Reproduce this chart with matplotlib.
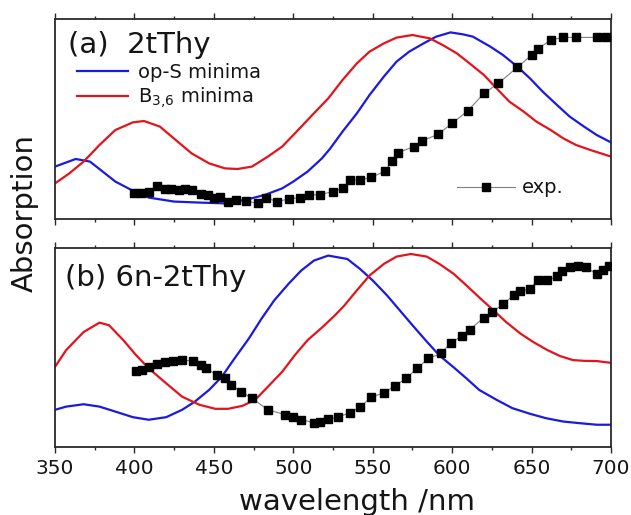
import matplotlib
matplotlib.use("Agg")
import matplotlib.pyplot as plt
from matplotlib.lines import Line2D
from matplotlib.ticker import MultipleLocator

plt.rcParams['font.family'] = ['DejaVu Sans']
plt.rcParams['mathtext.default'] = 'regular'

# ---- panel (a) 2tThy ----
a_blue_wl = [350, 363, 372, 380, 388, 400, 409, 425, 441, 457, 472, 482, 493, 500, 509, 518,
             523, 531, 540, 548, 557, 565, 573, 582, 590, 599, 607, 613, 624, 632, 641, 649,
             657, 666, 674, 683, 691, 700]
a_blue_v = [0.262, 0.30, 0.287, 0.237, 0.187, 0.137, 0.107, 0.087, 0.082, 0.078, 0.10, 0.12, 0.153,
            0.187, 0.237, 0.303, 0.35, 0.437, 0.528, 0.62, 0.712, 0.787, 0.837, 0.878, 0.912, 0.933,
            0.923, 0.912, 0.862, 0.82, 0.762, 0.703, 0.637, 0.57, 0.512, 0.462, 0.42, 0.383]

a_red_wl = [350, 359, 368, 378, 388, 399, 406, 416, 426, 436, 447, 457, 465, 474, 484, 493, 501,
            511, 522, 531, 540, 548, 557, 565, 575, 586, 594, 603, 611, 620, 628, 636, 645, 653,
            662, 670, 678, 687, 700]
a_red_v = [0.178, 0.228, 0.287, 0.37, 0.445, 0.483, 0.49, 0.462, 0.395, 0.328, 0.278, 0.253, 0.25,
           0.262, 0.312, 0.362, 0.428, 0.512, 0.603, 0.695, 0.778, 0.837, 0.878, 0.907, 0.92, 0.903,
           0.87, 0.828, 0.778, 0.72, 0.653, 0.587, 0.537, 0.487, 0.445, 0.403, 0.37, 0.345, 0.312]

a_exp_wl = [400, 404, 409, 414, 419, 423, 428, 432, 436, 442, 446, 450, 454, 459, 464, 470, 478,
            483, 490, 497, 504, 510, 517, 525, 531, 536, 542, 549, 558, 562, 566, 576, 581, 591,
            600, 610, 620, 629, 641, 650, 654, 662, 670, 678, 691, 697]
a_exp_v = [0.13, 0.13, 0.137, 0.165, 0.15, 0.15, 0.145, 0.15, 0.145, 0.125, 0.12, 0.107, 0.112,
           0.087, 0.095, 0.09, 0.078, 0.105, 0.087, 0.1, 0.107, 0.12, 0.122, 0.137, 0.153, 0.195,
           0.195, 0.208, 0.24, 0.29, 0.332, 0.362, 0.39, 0.423, 0.478, 0.542, 0.628, 0.678, 0.758,
           0.82, 0.85, 0.895, 0.908, 0.908, 0.908, 0.908]

# ---- panel (b) 6n-2tThy ----
b_blue_wl = [350, 357, 368, 378, 388, 399, 409, 420, 430, 438, 447, 455, 463, 472, 480, 488, 497,
             505, 513, 522, 534, 542, 550, 559, 567, 576, 584, 592, 601, 609, 617, 628, 638, 649,
             659, 670, 680, 691, 700]
b_blue_v = [0.187, 0.203, 0.215, 0.203, 0.178, 0.15, 0.137, 0.15, 0.187, 0.228, 0.287, 0.353,
            0.445, 0.545, 0.645, 0.737, 0.82, 0.887, 0.937, 0.962, 0.945, 0.895, 0.837, 0.762,
            0.687, 0.603, 0.53, 0.46, 0.40, 0.345, 0.287, 0.237, 0.195, 0.167, 0.145, 0.128,
            0.12, 0.112, 0.112]

b_red_wl = [350, 357, 368, 378, 384, 393, 401, 409, 420, 430, 441, 451, 459, 468, 476, 484, 493,
            501, 509, 518, 526, 532, 540, 548, 557, 565, 574, 584, 592, 601, 609, 618, 626, 634,
            643, 651, 660, 668, 676, 683, 691, 700]
b_red_v = [0.403, 0.487, 0.578, 0.625, 0.612, 0.537, 0.462, 0.395, 0.32, 0.253, 0.212, 0.192,
           0.192, 0.207, 0.237, 0.303, 0.378, 0.462, 0.537, 0.60, 0.66, 0.71, 0.787, 0.862, 0.92,
           0.957, 0.97, 0.957, 0.92, 0.87, 0.812, 0.745, 0.687, 0.628, 0.57, 0.528, 0.487,
           0.457, 0.437, 0.433, 0.432, 0.423]

b_exp_wl = [401, 405, 409, 414, 419, 424, 430, 437, 442, 445, 452, 457, 461, 467, 474, 484, 495,
            500, 505, 513, 517, 522, 528, 536, 542, 549, 557, 564, 571, 578, 585, 593, 599, 606,
            611, 620, 625, 632, 639, 643, 649, 654, 660, 666, 669, 674, 679, 684, 691, 695, 699]
b_exp_v = [0.382, 0.387, 0.40, 0.417, 0.428, 0.433, 0.437, 0.432, 0.412, 0.395, 0.362, 0.345,
           0.312, 0.278, 0.245, 0.187, 0.162, 0.15, 0.137, 0.123, 0.128, 0.14, 0.15, 0.173, 0.20,
           0.25, 0.273, 0.307, 0.345, 0.395, 0.445, 0.47, 0.523, 0.557, 0.59, 0.65, 0.678, 0.717,
           0.765, 0.783, 0.795, 0.84, 0.837, 0.857, 0.887, 0.903, 0.912, 0.903, 0.87, 0.89, 0.912]

xticks = [350, 400, 450, 500, 550, 600, 650, 700]

BLUE = '#1a1ae0'
RED = '#e3141c'
GRAY = '#808080'
SPINE = '#2a2a2a'
TXT = '#151515'

fig = plt.figure(figsize=(6.31, 5.15), dpi=100)
ax1 = fig.add_axes([0.0872, 0.5748, 0.8811, 0.3883])
ax2 = fig.add_axes([0.0872, 0.1320, 0.8811, 0.3864])


def style(ax, labels):
    ax.set_xlim(350, 700)
    ax.set_ylim(0, 1)
    ax.set_xticks(xticks)
    ax.xaxis.set_minor_locator(MultipleLocator(25))
    ax.set_yticks([])
    for s in ax.spines.values():
        s.set_linewidth(1.3)
        s.set_color(SPINE)
    ax.tick_params(axis='x', which='major', direction='out', top=True, bottom=True,
                   length=4.5, width=1.0, color=SPINE, labelsize=14.5, pad=4,
                   labelbottom=labels, labelcolor=TXT)
    ax.tick_params(axis='x', which='minor', direction='out', top=True, bottom=True,
                   length=2.5, width=1.0, color=SPINE)


for ax, bw, bv, rw, rv, ew, ev in [
        (ax1, a_blue_wl, a_blue_v, a_red_wl, a_red_v, a_exp_wl, a_exp_v),
        (ax2, b_blue_wl, b_blue_v, b_red_wl, b_red_v, b_exp_wl, b_exp_v)]:
    ax.plot(ew, ev, color=GRAY, lw=0.8, zorder=1)
    ax.plot(ew, ev, ls='none', marker='s', ms=5.2, color='black', zorder=3)
    ax.plot(bw, bv, color=BLUE, lw=1.6, zorder=2, solid_joinstyle='round')
    ax.plot(rw, rv, color=RED, lw=1.6, zorder=2, solid_joinstyle='round')

style(ax1, False)
style(ax2, True)

ax1.text(0.0234, 0.83, '(a)  2tThy', transform=ax1.transAxes, fontsize=21,
         va='baseline', ha='left', color=TXT)
ax2.text(0.018, 0.809, '(b) 6n-2tThy', transform=ax2.transAxes, fontsize=21,
         va='baseline', ha='left', color=TXT)

h_blue = Line2D([], [], color=BLUE, lw=1.6)
h_red = Line2D([], [], color=RED, lw=1.6)
leg1 = ax1.legend([h_blue, h_red], ['op-S minima', r'B$_{3{,}6}$ minima'],
                  loc='center left', bbox_to_anchor=(0.0396, 0.663), frameon=False,
                  fontsize=14, handlelength=2.6, handletextpad=0.55, labelspacing=0.2,
                  borderpad=0, borderaxespad=0, labelcolor=TXT)
ax1.add_artist(leg1)

h_exp = Line2D([], [], color=GRAY, lw=0.8, marker='s', ms=5.2,
               markerfacecolor='black', markeredgecolor='black')
ax1.legend([h_exp], ['exp.'], loc='center left', bbox_to_anchor=(0.723, 0.155),
           frameon=False, fontsize=14, handlelength=3.0, handletextpad=0.36,
           borderpad=0, borderaxespad=0, numpoints=1, labelcolor=TXT)

fig.text(25 / 631, 1 - 213 / 515, 'Absorption', rotation=90, fontsize=21,
         ha='center', va='center', color=TXT)
fig.text(357 / 631, 1 - 510 / 515, 'wavelength /nm', fontsize=21,
         ha='center', va='baseline', color=TXT)

fig.savefig('out.png', dpi=100)
